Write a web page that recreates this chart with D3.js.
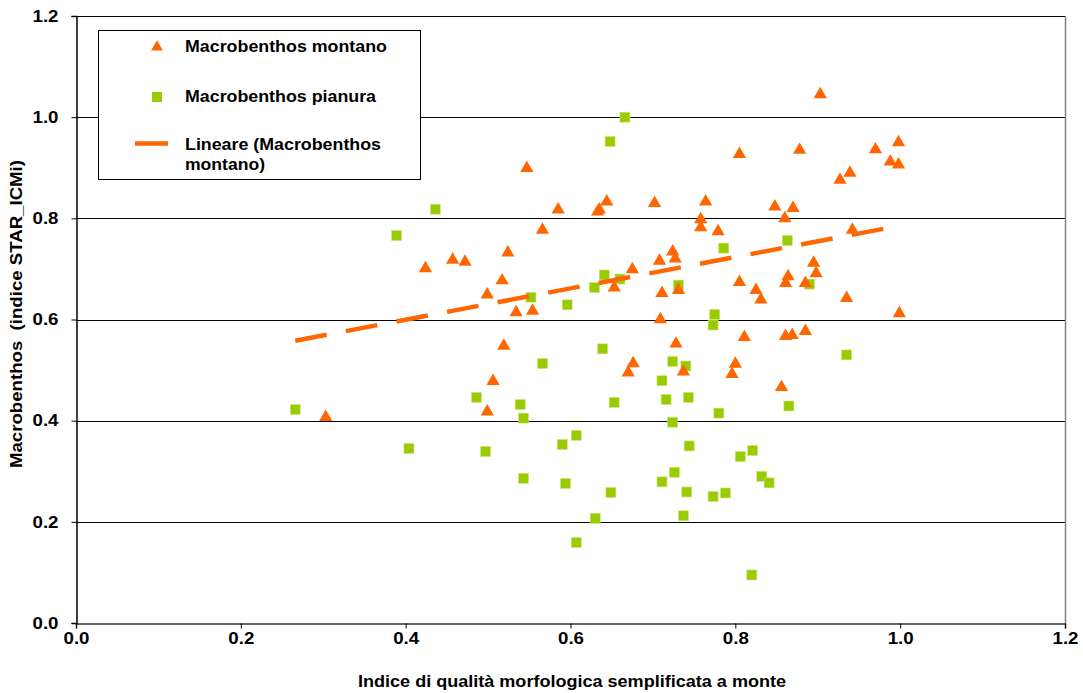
<!DOCTYPE html>
<html><head><meta charset="utf-8">
<script src="https://cdn.jsdelivr.net/npm/d3@7"></script>
<style>
html,body{margin:0;padding:0;background:#fff;}
svg text{font-family:"Liberation Sans",Arial,sans-serif;font-weight:bold;fill:#000;}
</style></head>
<body><svg id="c" width="1083" height="693"></svg>
<script>
const montanoX = [0.303,0.424,0.457,0.472,0.499,0.499,0.506,0.517,0.519,0.524,0.534,0.547,0.554,0.566,0.585,0.633,0.635,0.644,0.653,0.675,0.676,0.670,0.702,0.708,0.709,0.711,0.724,0.727,0.728,0.731,0.737,0.758,0.758,0.764,0.779,0.796,0.800,0.805,0.805,0.811,0.825,0.831,0.848,0.856,0.860,0.861,0.861,0.864,0.869,0.870,0.878,0.885,0.885,0.895,0.898,0.903,0.927,0.935,0.939,0.942,0.970,0.988,0.998,0.998,0.999];
const montanoY = [0.407,0.701,0.718,0.714,0.649,0.418,0.478,0.677,0.548,0.732,0.614,0.899,0.617,0.777,0.817,0.813,0.817,0.833,0.663,0.699,0.513,0.495,0.830,0.716,0.600,0.652,0.734,0.720,0.552,0.658,0.497,0.798,0.782,0.833,0.774,0.492,0.512,0.927,0.674,0.565,0.658,0.639,0.823,0.466,0.800,0.567,0.672,0.685,0.569,0.820,0.935,0.577,0.672,0.712,0.691,1.045,0.876,0.642,0.890,0.777,0.936,0.912,0.950,0.906,0.612];
const pianuraX = [0.266,0.389,0.404,0.436,0.486,0.497,0.539,0.543,0.543,0.552,0.566,0.590,0.594,0.596,0.607,0.607,0.629,0.630,0.639,0.641,0.648,0.649,0.653,0.660,0.666,0.711,0.711,0.716,0.724,0.724,0.726,0.731,0.737,0.740,0.741,0.743,0.744,0.773,0.773,0.775,0.780,0.786,0.788,0.806,0.820,0.821,0.832,0.841,0.863,0.865,0.890,0.935];
const pianuraY = [0.422,0.766,0.345,0.818,0.446,0.339,0.432,0.405,0.286,0.644,0.513,0.353,0.276,0.629,0.371,0.159,0.663,0.207,0.542,0.688,0.952,0.258,0.436,0.680,1.000,0.479,0.279,0.442,0.517,0.397,0.298,0.668,0.212,0.508,0.259,0.446,0.350,0.589,0.250,0.610,0.415,0.741,0.257,0.329,0.095,0.341,0.290,0.277,0.756,0.429,0.670,0.530];
const trendX = [0.266, 0.9795];
const trendSlope = 0.31, trendIntercept = 0.4755;
const xTicks = [0,0.2,0.4,0.6,0.8,1.0,1.2];
const yTicks = [0,0.2,0.4,0.6,0.8,1.0,1.2];
const legendLabels = ["Macrobenthos montano","Macrobenthos pianura","Lineare (Macrobenthos","montano)"];
const xTitle = "Indice di qualità morfologica semplificata a monte";
const yTitle = "Macrobenthos  (indice STAR_ICMi)";

const ORANGE="#FF6600", GREEN="#99CC00";
const FS=16.3;
const svg=d3.select("#c");
const L=76,R=1065,T=16,B=623;
const x=d3.scaleLinear().domain([0,1.2]).range([L,R]);
const y=d3.scaleLinear().domain([0,1.2]).range([B,T]);

// gridlines
svg.append("g").selectAll("line").data(yTicks.filter(d=>d>0)).join("line")
  .attr("x1",L).attr("x2",R).attr("y1",d=>Math.round(y(d))+0.5).attr("y2",d=>Math.round(y(d))+0.5)
  .attr("stroke","#000").attr("stroke-width",1);
// right border
svg.append("line").attr("x1",R+0.5).attr("x2",R+0.5).attr("y1",T).attr("y2",B).attr("stroke","#808080").attr("stroke-width",1.5);

// axes
const xAxis=svg.append("g").attr("transform",`translate(0,${B+0.5})`)
  .call(d3.axisBottom(x).tickValues(xTicks).tickFormat(d3.format(".1f")).tickSize(5).tickPadding(4));
const yAxis=svg.append("g").attr("transform",`translate(${L+0.5},0)`)
  .call(d3.axisLeft(y).tickValues(yTicks).tickFormat(d3.format(".1f")).tickSize(5).tickPadding(13));
[xAxis,yAxis].forEach(a=>{
  a.attr("font-size",FS).attr("font-family","Liberation Sans, Arial, sans-serif").attr("font-weight","bold");
  a.selectAll("path").attr("stroke","#000").attr("stroke-width",1.5);
  a.selectAll("line").attr("stroke","#000");
  a.selectAll("text").attr("fill","#000").attr("textLength",26).attr("lengthAdjust","spacingAndGlyphs");
});
xAxis.select(".domain").attr("stroke","#333");

// pianura squares
const S=10;
svg.append("g").selectAll("rect").data(pianuraX.map((d,i)=>[d,pianuraY[i]])).join("rect")
  .attr("x",d=>x(d[0])-S/2).attr("y",d=>y(d[1])-S/2).attr("width",S).attr("height",S)
  .attr("fill",GREEN).attr("stroke","#C9E680").attr("stroke-width",0.6);

// montano triangles
const tri=d3.symbol().type(d3.symbolTriangle).size(76);
svg.append("g").selectAll("path").data(montanoX.map((d,i)=>[d,montanoY[i]])).join("path")
  .attr("d",tri).attr("transform",d=>`translate(${x(d[0])},${y(d[1])})`)
  .attr("fill",ORANGE);

// trend line
svg.append("line")
  .attr("x1",x(trendX[0])).attr("y1",y(trendIntercept+trendSlope*trendX[0]))
  .attr("x2",x(trendX[1])).attr("y2",y(trendIntercept+trendSlope*trendX[1]))
  .attr("stroke",ORANGE).attr("stroke-width",4.5).attr("stroke-dasharray","32,19.5");

// legend
const lg=svg.append("g");
lg.append("rect").attr("x",98.5).attr("y",30.5).attr("width",322).attr("height",149)
  .attr("fill","#fff").attr("stroke","#000").attr("stroke-width",1);
lg.append("path").attr("d",d3.symbol().type(d3.symbolTriangle).size(60)).attr("transform","translate(157,47)").attr("fill",ORANGE);
lg.append("rect").attr("x",152).attr("y",92).attr("width",S).attr("height",S).attr("fill",GREEN);
lg.append("line").attr("x1",135).attr("x2",168).attr("y1",143.5).attr("y2",143.5).attr("stroke",ORANGE).attr("stroke-width",4.5);
const ly=[52,102,150,170], lw=[202,191,196,80];
lg.selectAll("text.l").data(legendLabels).join("text").attr("class","l")
  .attr("x",185).attr("y",(d,i)=>ly[i]).attr("font-size",FS)
  .attr("textLength",(d,i)=>lw[i]).attr("lengthAdjust","spacingAndGlyphs").text(d=>d);

// axis titles
svg.append("text").attr("x",572).attr("y",687).attr("text-anchor","middle").attr("font-size",FS)
  .attr("textLength",428).attr("lengthAdjust","spacingAndGlyphs").text(xTitle);
svg.append("text").attr("transform",`translate(22,314) rotate(-90)`).attr("text-anchor","middle")
  .attr("font-size",FS).attr("textLength",308).attr("lengthAdjust","spacingAndGlyphs")
  .style("white-space","pre").text(yTitle);
</script></body></html>
